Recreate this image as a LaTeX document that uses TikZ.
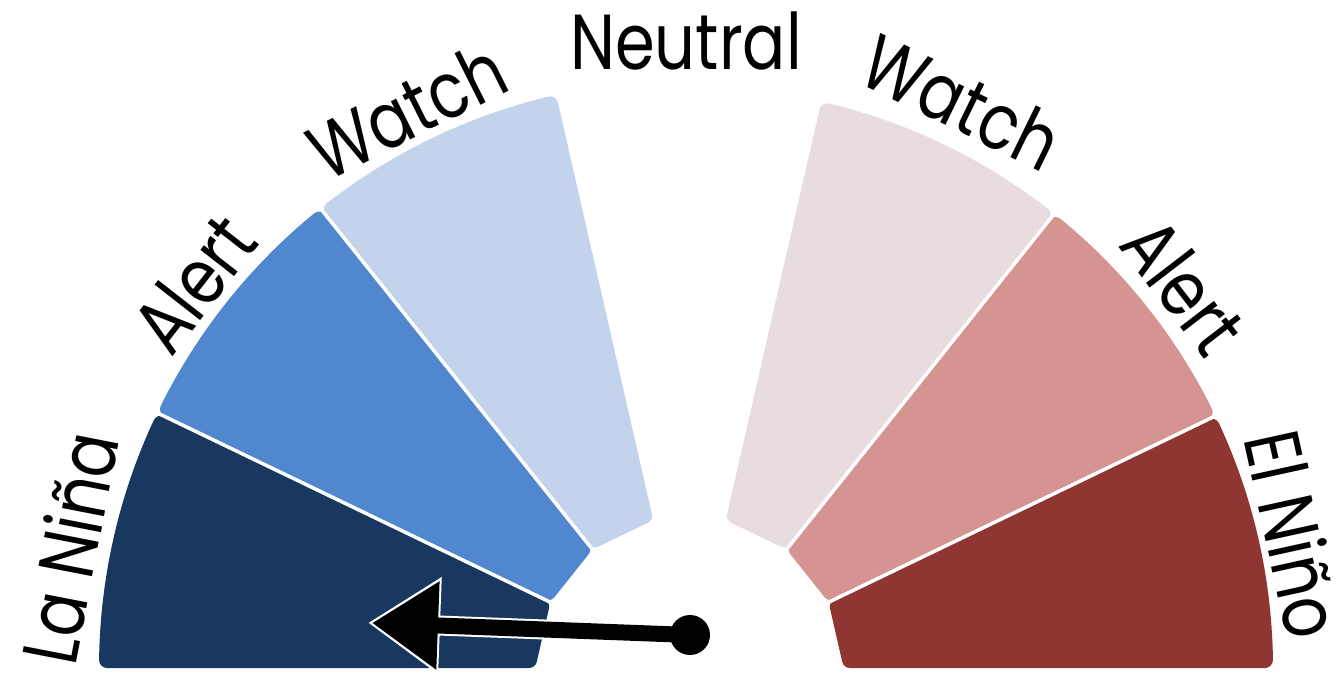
\documentclass[tikz,border=0pt]{standalone}
\usepackage{fontspec}
\setmainfont{Poppins}[FakeStretch=0.82]
\usetikzlibrary{calc,arrows.meta}
\definecolor{ninaDark}{RGB}{24,56,96}
\definecolor{ninaAlert}{RGB}{80,135,207}
\definecolor{ninaWatch}{RGB}{195,211,235}
\definecolor{ninoWatch}{RGB}{233,220,222}
\definecolor{ninoAlert}{RGB}{213,148,146}
\definecolor{ninoDark}{RGB}{143,54,50}
% outer radius 588, inner radius 150 (straight inner edge), corner rounding 8
\def\gsRw{8}
\def\gsRoP{579.945}
\def\gsDo{0.7903}
\def\gsRm{580}
\def\gsRn{158}
\newcommand\gaugesector[3]{%
  \filldraw[fill=#3, draw=#3, line width=16pt, line join=round]
    ($(#1:\gsRoP pt)+(#1+90:\gsRw pt)$)
    arc[start angle=#1+\gsDo, end angle=#2-\gsDo, radius=\gsRm pt]
    -- ($(#2:\gsRn pt)+(#2-90:\gsRw pt)$)
    -- ($(#1:\gsRn pt)+(#1+90:\gsRw pt)$)
    -- cycle;
}
\begin{document}
\begin{tikzpicture}[x=1pt,y=1pt,
  lbl/.style={font=\fontsize{78}{88}\selectfont, text=black, inner sep=0pt},
  sepline/.style={white, line width=3.5pt},
  ]
\useasboundingbox (-686,-6) rectangle (651,668);
% left sectors
\begin{scope}[xshift=1pt]
\gaugesector{154.2857}{180}{ninaDark}
\gaugesector{128.5714}{154.2857}{ninaAlert}
\gaugesector{102.8571}{128.5714}{ninaWatch}
\foreach \a in {154.2857,128.5714}
  \draw[sepline] (\a:140pt) -- (\a:600pt);
\end{scope}
% right sectors (outer radius 581)
\begin{scope}[xshift=6pt]
\def\gsRoP{572.944}
\def\gsDo{0.8000}
\def\gsRm{573}
\gaugesector{51.4286}{77.1429}{ninoWatch}
\gaugesector{25.7143}{51.4286}{ninoAlert}
\gaugesector{0}{25.7143}{ninoDark}
\foreach \a in {51.4286,25.7143}
  \draw[sepline] (\a:140pt) -- (\a:600pt);
\end{scope}
% labels
\node[lbl, rotate=79.0]  (lanina)  at (169.0:629pt) {La Niña};
\node[lbl, rotate=52.0]  (alertL)  at (142.0:625pt) {Alert};
\node[lbl, rotate=26.6]  (watchL)  at (116.6:624pt) {Watch};
\node[lbl]               (neutral) at (90:627pt)    {Neutral};
\node[lbl, rotate=-26.0] (watchR)  at (64.0:630pt)  {Watch};
\node[lbl, rotate=-52.5] (alertR)  at (37.5:628pt)  {Alert};
\node[lbl, rotate=-77.6] (elnino)  at (12.4:623pt)  {El Niño};
% needle
\coordinate (pivot) at (4,33);
\coordinate (tip) at (-314,45);
\draw[white, line width=20pt, -{Triangle[length=72pt,width=92pt]}, shorten >=-4pt] (pivot) -- (tip);
\draw[black, line width=16pt, -{Triangle[length=66pt,width=84pt]}] (pivot) -- (tip);
\node[circle, fill=black, minimum size=40pt, inner sep=0pt] (dot) at (pivot) {};
\end{tikzpicture}
\end{document}
